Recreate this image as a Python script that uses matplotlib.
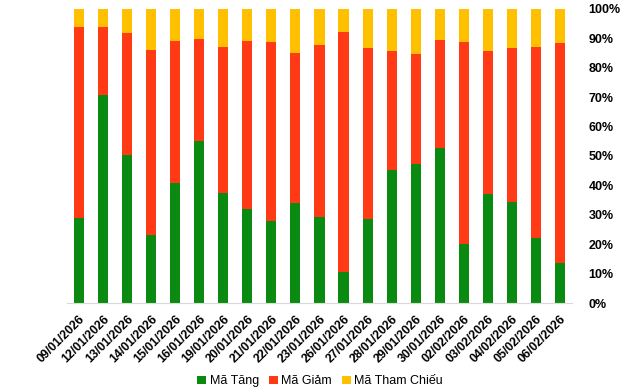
import numpy as np
import matplotlib.pyplot as plt
from matplotlib.ticker import PercentFormatter

plt.rcParams['font.family'] = ['Liberation Sans', 'DejaVu Sans']

dates = ['09/01/2026', '12/01/2026', '13/01/2026', '14/01/2026', '15/01/2026',
         '16/01/2026', '19/01/2026', '20/01/2026', '21/01/2026', '22/01/2026',
         '23/01/2026', '26/01/2026', '27/01/2026', '28/01/2026', '29/01/2026',
         '30/01/2026', '02/02/2026', '03/02/2026', '04/02/2026', '05/02/2026',
         '06/02/2026']

# share of tickers (%)
tang = [29.0, 70.7, 50.3, 23.1, 40.8, 55.1, 37.4, 32.0, 27.9, 34.0, 29.3,
        10.5, 28.6, 45.2, 47.3, 52.7, 20.1, 37.1, 34.4, 22.1, 13.6]
giam = [64.9, 23.2, 41.5, 63.0, 48.3, 34.7, 49.7, 57.1, 60.9, 51.0, 58.5,
        81.7, 58.1, 40.5, 37.4, 36.8, 68.7, 48.6, 52.3, 65.0, 74.8]
tham_chieu = [6.1, 6.1, 8.2, 13.9, 10.9, 10.2, 12.9, 10.9, 11.2, 15.0, 12.2,
              7.8, 13.3, 14.3, 15.3, 10.5, 11.2, 14.3, 13.3, 12.9, 11.6]

labels = ['Mã Tăng', 'Mã Giảm', 'Mã Tham Chiếu']
colors = ['#0B8A12', '#FF3A14', '#FFC000']

x = np.arange(len(dates))
tang = np.array(tang)
giam = np.array(giam)
tham_chieu = np.array(tham_chieu)

fig = plt.figure(figsize=(6.4, 3.89), dpi=100)
ax = fig.add_axes([0.1047, 0.221, 0.789, 0.756])

w = 0.42
ax.bar(x, tang, w, color=colors[0], label=labels[0])
ax.bar(x, giam, w, bottom=tang, color=colors[1], label=labels[1])
ax.bar(x, tham_chieu, w, bottom=tang + giam, color=colors[2], label=labels[2])

ax.set_xlim(-0.5, len(dates) - 0.5)
ax.set_ylim(0, 100)
ax.yaxis.tick_right()
ax.set_yticks(np.arange(0, 101, 10))
ax.yaxis.set_major_formatter(PercentFormatter(decimals=0))
ax.tick_params(axis='y', length=0, pad=12, labelsize=9)
for t in ax.get_yticklabels():
    t.set_fontweight('bold')

ax.set_xticks(x)
ax.set_xticklabels(dates, rotation=45, ha='right', rotation_mode='anchor',
                   fontsize=8.8, fontweight='bold')
ax.tick_params(axis='x', length=0, pad=7)

for s in ['top', 'left', 'right']:
    ax.spines[s].set_visible(False)
ax.spines['bottom'].set_color('#d9d9d9')

fig.legend(loc='lower center', bbox_to_anchor=(0.5, -0.025), ncol=3, frameon=False,
           fontsize=9, handlelength=0.7, handleheight=0.7, handletextpad=0.3,
           columnspacing=0.8)

fig.savefig('out.png', dpi=100)
